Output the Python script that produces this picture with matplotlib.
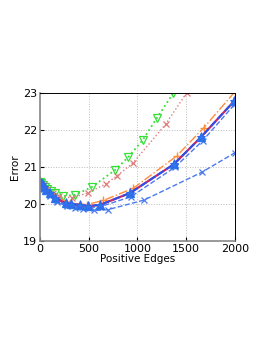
import numpy as np
import matplotlib.pyplot as plt

# data
green_x = [5, 15, 30, 50, 75, 110, 160, 239, 359, 530, 769, 906, 1053, 1197, 1370]
green_y = [20.60, 20.55, 20.50, 20.45, 20.40, 20.34, 20.28, 20.21, 20.24, 20.45, 20.91, 21.26, 21.72, 22.31, 23.0]

red_x = [5, 30, 70, 130, 200, 325, 489, 677, 793, 957, 1289, 1505]
red_y = [20.60, 20.50, 20.40, 20.28, 20.20, 20.16, 20.29, 20.54, 20.76, 21.11, 22.15, 23.0]

orange_x = [5, 40, 100, 200, 320, 480, 650, 957, 1402, 1682, 2000]
orange_y = [20.60, 20.45, 20.30, 20.13, 20.02, 19.98, 20.09, 20.42, 21.29, 22.06, 23.03]

main_x = [5, 20, 40, 60, 100, 160, 263, 315, 410, 496, 615, 923, 1374, 1651, 1993]
main_y = [20.60, 20.53, 20.45, 20.38, 20.28, 20.15, 20.02, 20.00, 19.97, 19.94, 19.97, 20.29, 21.07, 21.80, 22.78]

bx_x = [5, 40, 100, 180, 280, 380, 500, 615, 933, 1385, 1668, 2000]
bx_y = [20.58, 20.42, 20.24, 20.08, 19.97, 19.92, 19.90, 19.92, 20.19, 20.99, 21.70, 22.70]

low_x = [5, 40, 100, 180, 273, 359, 438, 557, 694, 1067, 1658, 2000]
low_y = [20.58, 20.40, 20.20, 20.05, 19.94, 19.88, 19.85, 19.82, 19.84, 20.10, 20.85, 21.38]

fig = plt.figure(figsize=(2.66, 3.44), dpi=100)
ax = fig.add_axes([0.150, 0.300, 0.733, 0.430])

ax.plot(green_x, green_y, ':', color='#33e033', lw=1.3, marker='v', mfc='none',
        mec='#33e033', ms=5.5, mew=0.9)
ax.plot(red_x, red_y, ':', color='#e07a7a', lw=1.0, marker='x', ms=4.5, mew=0.9)
ax.plot(orange_x, orange_y, '-.', color='#ff8c3a', lw=1.0, marker='+', ms=6, mew=1.0)
ax.plot(low_x, low_y, '--', color='#4a7aee', lw=1.0, marker='x', ms=4, mew=0.9)
ax.plot(bx_x, bx_y, '--', color='#4a7aee', lw=1.0, marker='x', ms=4, mew=0.9)
ax.plot(main_x, main_y, '-', color='#cc2266', lw=1.6)
ax.plot(main_x, main_y, '--', color='#2255ee', lw=1.4, marker='^', ms=6,
        mfc='#2a7be8', mec='#2a7be8')
ax.plot(main_x, main_y, 'none', marker='*', ms=6.5, mfc='none', mec='#3366ee', mew=0.7)

ax.set_xlim(0, 2000)
ax.set_ylim(19, 23)
ax.set_xticks([0, 500, 1000, 1500, 2000])
ax.set_yticks([19, 20, 21, 22, 23])
ax.grid(True, ls=':', color='#bbbbbb', lw=0.7)
ax.tick_params(direction='in', labelsize=8, length=3, pad=2)
for s in ['left', 'bottom']:
    ax.spines[s].set_color('#888888')
    ax.spines[s].set_linewidth(1.2)
for s in ['top', 'right']:
    ax.spines[s].set_linewidth(0.7)
ax.set_xlabel('Positive Edges', fontsize=7.5, labelpad=0)
ax.set_ylabel('Error', fontsize=7.5, labelpad=2)

fig.savefig('out.png', dpi=100)
